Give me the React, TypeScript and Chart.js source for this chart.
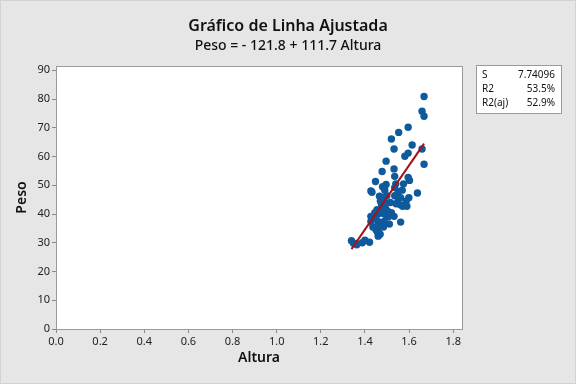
import React, { useEffect, useRef } from "react";
import { Chart, registerables } from "chart.js";

Chart.register(...registerables);

const alturas = [
  1.668, 1.659, 1.668, 1.596, 1.553, 1.52, 1.614, 1.532, 1.659, 1.596,
  1.581, 1.496, 1.668, 1.532, 1.478, 1.535, 1.596, 1.602, 1.448, 1.496,
  1.427, 1.432, 1.49, 1.535, 1.551, 1.569, 1.638, 1.466, 1.481, 1.499,
  1.535, 1.551, 1.562, 1.599, 1.587, 1.475, 1.493, 1.541, 1.56, 1.571,
  1.59, 1.475, 1.493, 1.502, 1.463, 1.478, 1.49, 1.505, 1.532, 1.427,
  1.439, 1.451, 1.427, 1.466, 1.487, 1.511, 1.562, 1.436, 1.466, 1.484,
  1.457, 1.469, 1.46, 1.339, 1.348, 1.363, 1.388, 1.4, 1.421, 1.445,
  1.455, 1.47, 1.515, 1.48, 1.54, 1.575, 1.46, 1.45, 1.52, 1.36,
];
const pesos = [
  80.9, 75.8, 74.0, 70.2, 68.4, 66.1, 64.0, 62.6, 62.6, 61.2,
  60.1, 58.4, 57.3, 55.7, 54.8, 53.1, 52.7, 51.7, 51.3, 50.3,
  48.0, 47.6, 48.3, 49.2, 47.8, 48.3, 47.3, 46.2, 45.7, 46.4,
  46.4, 45.2, 45.7, 45.7, 44.5, 43.4, 43.9, 43.6, 43.2, 42.7,
  42.7, 41.8, 42.0, 41.1, 40.2, 40.4, 39.9, 39.0, 39.2, 39.2,
  38.5, 38.3, 37.4, 37.2, 37.4, 36.5, 37.2, 35.5, 35.3, 35.5,
  33.7, 33.0, 32.3, 30.7, 29.8, 29.3, 30.0, 30.9, 30.2, 40.5,
  41.5, 44.5, 44.0, 49.5, 50.5, 50.5, 36.5, 34.5, 40.5, 29.8,
];

const intercept = -121.8;
const slope = 111.7;

const chartTitle = "Gráfico de Linha Ajustada";
const chartSubtitle = "Peso = - 121.8 + 111.7 Altura";
const xAxisTitle = "Altura";
const yAxisTitle = "Peso";
const statLabels = ["S", "R2", "R2(aj)"];
const statValues = ["7.74096", "53.5%", "52.9%"];

const FONT = "'Noto Sans', 'Open Sans', sans-serif";

const framePlugin = {
  id: "frame",
  beforeDraw(chart: any) {
    const { ctx, chartArea, width, height } = chart;
    ctx.save();
    ctx.fillStyle = "#e6e6e6";
    ctx.fillRect(0, 0, width, height);
    ctx.strokeStyle = "#d2d2d2";
    ctx.lineWidth = 1;
    ctx.strokeRect(0.5, 0.5, width - 1, height - 1);
    ctx.fillStyle = "#ffffff";
    ctx.fillRect(chartArea.left, chartArea.top, chartArea.right - chartArea.left, chartArea.bottom - chartArea.top);
    ctx.restore();
  },
  afterDraw(chart: any) {
    const { ctx, chartArea } = chart;
    ctx.save();
    ctx.strokeStyle = "#9a9a9a";
    ctx.lineWidth = 1;
    ctx.strokeRect(
      Math.round(chartArea.left) + 0.5,
      Math.round(chartArea.top) + 0.5,
      Math.round(chartArea.right - chartArea.left),
      Math.round(chartArea.bottom - chartArea.top)
    );
    // titles
    ctx.fillStyle = "#111";
    ctx.textAlign = "center";
    ctx.textBaseline = "middle";
    ctx.font = `600 16px ${FONT}`;
    ctx.fillText(chartTitle, 288, 26);
    ctx.font = `500 14px ${FONT}`;
    ctx.fillText(chartSubtitle, 288, 46);
    // stats box
    const bx = 476, by = 65, bw = 85, bh = 48;
    ctx.fillStyle = "#ffffff";
    ctx.fillRect(bx, by, bw, bh);
    ctx.strokeStyle = "#9a9a9a";
    ctx.strokeRect(bx + 0.5, by + 0.5, bw, bh);
    ctx.fillStyle = "#111";
    ctx.font = `10px ${FONT}`;
    statLabels.forEach((lab, i) => {
      const y = by + 10 + i * 14;
      ctx.textAlign = "left";
      ctx.fillText(lab, bx + 6, y);
      ctx.textAlign = "right";
      ctx.fillText(statValues[i], bx + bw - 6, y);
    });
    ctx.restore();
  },
};

export default function App() {
  const ref = useRef<HTMLCanvasElement | null>(null);
  useEffect(() => {
    document.body.style.margin = "0";
    const canvas = ref.current;
    if (!canvas) return;
    const points = alturas.map((x, i) => ({ x, y: pesos[i] }));
    const xMin = Math.min(...alturas);
    const xMax = Math.max(...alturas);
    const fitLine = [
      { x: xMin, y: intercept + slope * xMin },
      { x: xMax, y: intercept + slope * xMax },
    ];
    const chart = new Chart(canvas, {
      type: "scatter",
      data: {
        datasets: [
          {
            type: "line",
            data: fitLine,
            borderColor: "#a3131c",
            borderWidth: 2,
            pointRadius: 0,
            showLine: true,
            fill: false,
            order: 0,
          } as any,
          {
            data: points,
            backgroundColor: "#0f5a9c",
            borderColor: "#0f5a9c",
            pointRadius: 3.7,
            pointBorderWidth: 0,
            order: 1,
          },
        ],
      },
      options: {
        responsive: false,
        animation: false,
        layout: { padding: { left: 14, top: 66, right: 114, bottom: 18 } },
        plugins: {
          legend: { display: false },
          tooltip: { enabled: false },
          title: { display: false },
        },
        scales: {
          x: {
            type: "linear",
            min: 0,
            max: 1.84,
            afterFit: (s: any) => {
              s.height = 37;
            },
            ticks: {
              stepSize: 0.2,
              includeBounds: false,
              color: "#222",
              padding: 2,
              maxRotation: 0,
              font: { family: FONT, size: 11 },
              callback: (v: any) => Number(v).toFixed(1),
            },
            grid: { drawOnChartArea: false, drawTicks: true, tickLength: 4, color: "#8a8a8a" },
            border: { display: true, color: "#9a9a9a" },
            title: {
              display: true,
              text: xAxisTitle,
              color: "#111",
              padding: 0,
              font: { family: FONT, size: 14, weight: "600" },
            },
          },
          y: {
            type: "linear",
            min: 0,
            max: 91.5,
            afterFit: (s: any) => {
              s.width = 42;
            },
            ticks: {
              stepSize: 10,
              includeBounds: false,
              color: "#222",
              padding: 2,
              font: { family: FONT, size: 11 },
            },
            grid: { drawOnChartArea: false, drawTicks: true, tickLength: 4, color: "#8a8a8a" },
            border: { display: true, color: "#9a9a9a" },
            title: {
              display: true,
              text: yAxisTitle,
              color: "#111",
              padding: 0,
              font: { family: FONT, size: 14, weight: "600" },
            },
          },
        },
      },
      plugins: [framePlugin],
    });
    return () => chart.destroy();
  }, []);
  return (
    <div style={{ width: 576, height: 384 }}>
      <canvas ref={ref} width={576} height={384} />
    </div>
  );
}
